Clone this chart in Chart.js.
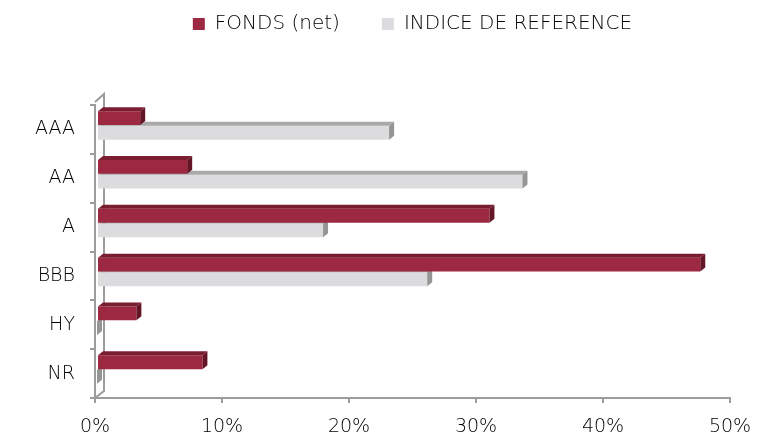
<!DOCTYPE html>
<html>
<head>
<meta charset="utf-8">
<script src="https://cdn.jsdelivr.net/npm/chart.js@4/dist/chart.umd.min.js"></script>
<style>
  html, body { margin: 0; padding: 0; background: #ffffff; }
  #wrap { width: 757px; height: 433px; position: relative; }
</style>
</head>
<body>
<div id="wrap"><canvas id="chart"></canvas></div>
<script>
  const categories = ['AAA', 'AA', 'A', 'BBB', 'HY', 'NR'];
  const fondsValues = [3.4, 7.1, 30.9, 47.5, 3.1, 8.3];
  const indiceValues = [23.0, 33.5, 17.8, 26.0, 0, 0];
  const seriesNames = ['FONDS (net)', 'INDICE DE REFERENCE'];
  const xTicks = [0, 10, 20, 30, 40, 50];

  const FONT = "'DejaVu Sans'";
  const TEXT = '#000000';
  const AXIS = '#9c9c9c';
  const DEPTH_X = 5;
  const DEPTH_Y = 4;

  const palette = [
    { front: '#9d2842', top: '#7b1d31', side: '#661526' },
    { front: '#dcdcde', top: '#a9a9a9', side: '#959595' },
  ];

  // keeps the legend high above the plot
  const legendSpace = {
    id: 'legendSpace',
    beforeInit(chart) {
      const fit = chart.legend.fit;
      chart.legend.fit = function () {
        fit.bind(chart.legend)();
        this.height = 133;
      };
    },
  };

  // back wall edges of the 3d look
  const walls = {
    id: 'walls',
    beforeDatasetsDraw(chart) {
      const a = chart.chartArea;
      const ctx = chart.ctx;
      ctx.save();
      ctx.strokeStyle = AXIS;
      ctx.lineWidth = 2;
      ctx.beginPath();
      ctx.moveTo(a.left, a.top - 3);
      ctx.lineTo(a.left + 9, a.top - 11);
      ctx.lineTo(a.left + 9, a.bottom - 7);
      ctx.lineTo(a.left, a.bottom);
      ctx.stroke();
      ctx.restore();
    },
  };

  // bars sit a little back in depth: up and to the right
  const depthShift = {
    id: 'depthShift',
    beforeDatasetsDraw(chart) {
      chart.ctx.save();
      chart.ctx.translate(2, -4);
    },
    afterDatasetsDraw(chart) {
      chart.ctx.restore();
    },
  };

  // top and side faces of each bar, from the bar element itself
  const bar3d = {
    id: 'bar3d',
    afterDatasetDraw(chart, args) {
      const meta = args.meta;
      const colors = palette[args.index];
      const ctx = chart.ctx;
      ctx.save();
      meta.data.forEach(function (bar) {
        const p = bar.getProps(['x', 'y', 'base', 'height'], true);
        const top = p.y - p.height / 2;
        const bottom = p.y + p.height / 2;
        ctx.fillStyle = colors.top;
        ctx.beginPath();
        ctx.moveTo(p.base, top);
        ctx.lineTo(p.x, top);
        ctx.lineTo(p.x + DEPTH_X, top - DEPTH_Y);
        ctx.lineTo(p.base + DEPTH_X, top - DEPTH_Y);
        ctx.closePath();
        ctx.fill();
        ctx.fillStyle = colors.side;
        ctx.beginPath();
        ctx.moveTo(p.x, top);
        ctx.lineTo(p.x + DEPTH_X, top - DEPTH_Y);
        ctx.lineTo(p.x + DEPTH_X, bottom - DEPTH_Y);
        ctx.lineTo(p.x, bottom);
        ctx.closePath();
        ctx.fill();
      });
      ctx.restore();
    },
  };

  new Chart(document.getElementById('chart'), {
    type: 'bar',
    data: {
      labels: categories,
      datasets: [
        {
          label: seriesNames[0],
          data: fondsValues,
          backgroundColor: palette[0].front,
          borderWidth: 0,
          categoryPercentage: 0.6,
          barPercentage: 0.94,
        },
        {
          label: seriesNames[1],
          data: indiceValues,
          backgroundColor: palette[1].front,
          borderWidth: 0,
          categoryPercentage: 0.6,
          barPercentage: 0.94,
        },
      ],
    },
    options: {
      indexAxis: 'y',
      responsive: true,
      maintainAspectRatio: false,
      animation: false,
      layout: { padding: { top: -28, right: 27, bottom: 0, left: 0 } },
      plugins: {
        legend: {
          position: 'top',
          fullSize: false,
          labels: {
            boxWidth: 12,
            boxHeight: 12,
            padding: 42,
            color: TEXT,
            font: { family: FONT, size: 20, weight: '200' },
          },
        },
        tooltip: { enabled: false },
      },
      scales: {
        x: {
          min: 0,
          max: 50,
          afterBuildTicks(scale) {
            scale.ticks = xTicks.map(function (v) { return { value: v }; });
          },
          afterFit(scale) { scale.height = 35; },
          border: { color: AXIS, width: 2 },
          grid: { drawOnChartArea: false, drawTicks: true, tickLength: 5, color: AXIS, lineWidth: 2 },
          ticks: {
            padding: 5,
            color: TEXT,
            font: { family: FONT, size: 19, weight: '200', lineHeight: 2.05 },
            callback: function (v) { return v + '%'; },
          },
        },
        y: {
          afterFit(scale) { scale.width = 95; },
          border: { color: AXIS, width: 2 },
          grid: { drawOnChartArea: false, drawTicks: true, tickLength: 5, color: AXIS, lineWidth: 2 },
          ticks: {
            padding: 15,
            color: TEXT,
            font: { family: FONT, size: 19, weight: '200' },
          },
        },
      },
    },
    plugins: [legendSpace, walls, depthShift, bar3d],
  });
</script>
</body>
</html>
